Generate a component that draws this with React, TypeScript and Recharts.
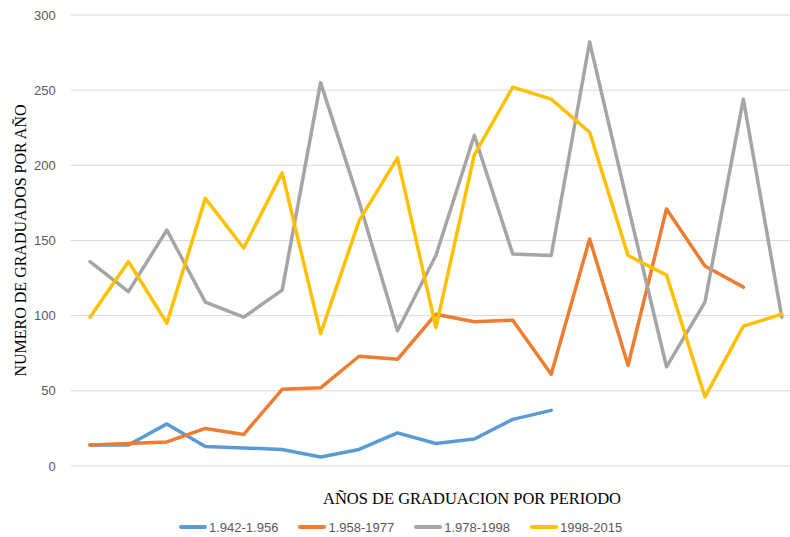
import { LineChart, Line, XAxis, YAxis, CartesianGrid, Legend } from 'recharts';

// periods along the x axis (no tick labels are shown in the chart)
const periods = ['1', '2', '3', '4', '5', '6', '7', '8', '9', '10', '11', '12', '13', '14', '15', '16', '17', '18', '19'];

const serie1942 = [14, 14, 28, 13, 12, 11, 6, 11, 22, 15, 18, 31, 37];
const serie1958 = [14, 15, 16, 25, 21, 51, 52, 73, 71, 101, 96, 97, 61, 151, 67, 171, 133, 119];
const serie1978 = [136, 116, 157, 109, 99, 117, 255, 176, 90, 140, 220, 141, 140, 282, 173, 66, 109, 244, 99];
const serie1998 = [99, 136, 95, 178, 145, 195, 88, 163, 205, 92, 207, 252, 244, 222, 140, 127, 46, 93, 101];

const yTicks = [0, 50, 100, 150, 200, 250, 300];

const series = [
  { key: 's1', name: '1.942-1.956', color: '#5B9BD5', values: serie1942 },
  { key: 's2', name: '1.958-1977', color: '#ED7D31', values: serie1958 },
  { key: 's3', name: '1.978-1998', color: '#A5A5A5', values: serie1978 },
  { key: 's4', name: '1998-2015', color: '#FFC000', values: serie1998 },
];

const data = periods.map((p, i) => {
  const row: Record<string, string | number | null> = { periodo: p };
  series.forEach((s) => {
    row[s.key] = s.values[i] ?? null;
  });
  return row;
});

const W = 830;
const H = 537;
const serif = '"Liberation Serif", "Times New Roman", serif';
const sans = '"Liberation Sans", Arial, sans-serif';

function YTitle(props: any) {
  const vb = props.viewBox;
  const cx = 20.5;
  const cy = vb.y + vb.height / 2;
  return (
    <text
      x={cx}
      y={cy}
      transform={`rotate(-90 ${cx} ${cy})`}
      textAnchor="middle"
      dominantBaseline="central"
      fontFamily={serif}
      fontSize={16}
      fill="#000"
    >
      NUMERO DE GRADUADOS POR AÑO
    </text>
  );
}

function XTitle(props: any) {
  const vb = props.viewBox;
  return (
    <text
      x={472}
      y={vb.y + 32}
      textAnchor="middle"
      dominantBaseline="central"
      fontFamily={serif}
      fontSize={16.5}
      fill="#000"
    >
      AÑOS DE GRADUACION POR PERIODO
    </text>
  );
}

function LegendRow() {
  return (
    <div
      style={{
        display: 'flex',
        alignItems: 'center',
        height: 20,
        paddingLeft: 179,
        fontFamily: sans,
        fontSize: 13,
        color: '#595959',
      }}
    >
      {series.map((s) => (
        <div key={s.key} style={{ display: 'flex', alignItems: 'center', marginRight: 20 }}>
          <span
            style={{
              display: 'inline-block',
              width: 28,
              height: 4,
              borderRadius: 2,
              background: s.color,
              marginRight: 2,
            }}
          />
          <span>{s.name}</span>
        </div>
      ))}
    </div>
  );
}

export default function App() {
  return (
    <div
      style={{
        position: 'fixed',
        left: 0,
        top: 0,
        width: 790,
        height: 537,
        overflow: 'hidden',
        background: '#fff',
      }}
    >
      <LineChart
        width={W}
        height={H}
        data={data}
        margin={{ top: 15, right: W - 801, left: 10.8, bottom: 0 }}
        style={{ fontFamily: sans }}
      >
        <CartesianGrid horizontal vertical={false} stroke="#D9D9D9" strokeWidth={1} />
        <XAxis
          dataKey="periodo"
          tick={false}
          tickLine={false}
          axisLine={false}
          height={51}
          padding={{ left: 19.2, right: 19.2 }}
          label={{ content: XTitle }}
        />
        <YAxis
          domain={[0, 300]}
          ticks={yTicks}
          width={60}
          axisLine={false}
          tickLine={false}
          tickMargin={9}
          tick={{ fill: '#595959', fontSize: 13, fontFamily: sans }}
          label={{ content: YTitle }}
        />
        <Legend
          verticalAlign="bottom"
          height={20}
          wrapperStyle={{ left: 0, width: W }}
          content={() => <LegendRow />}
        />
        {series.map((s) => (
          <Line
            key={s.key}
            type="linear"
            dataKey={s.key}
            name={s.name}
            stroke={s.color}
            strokeWidth={3.5}
            strokeLinejoin="round"
            strokeLinecap="round"
            dot={false}
            activeDot={false}
            isAnimationActive={false}
          />
        ))}
      </LineChart>
    </div>
  );
}
